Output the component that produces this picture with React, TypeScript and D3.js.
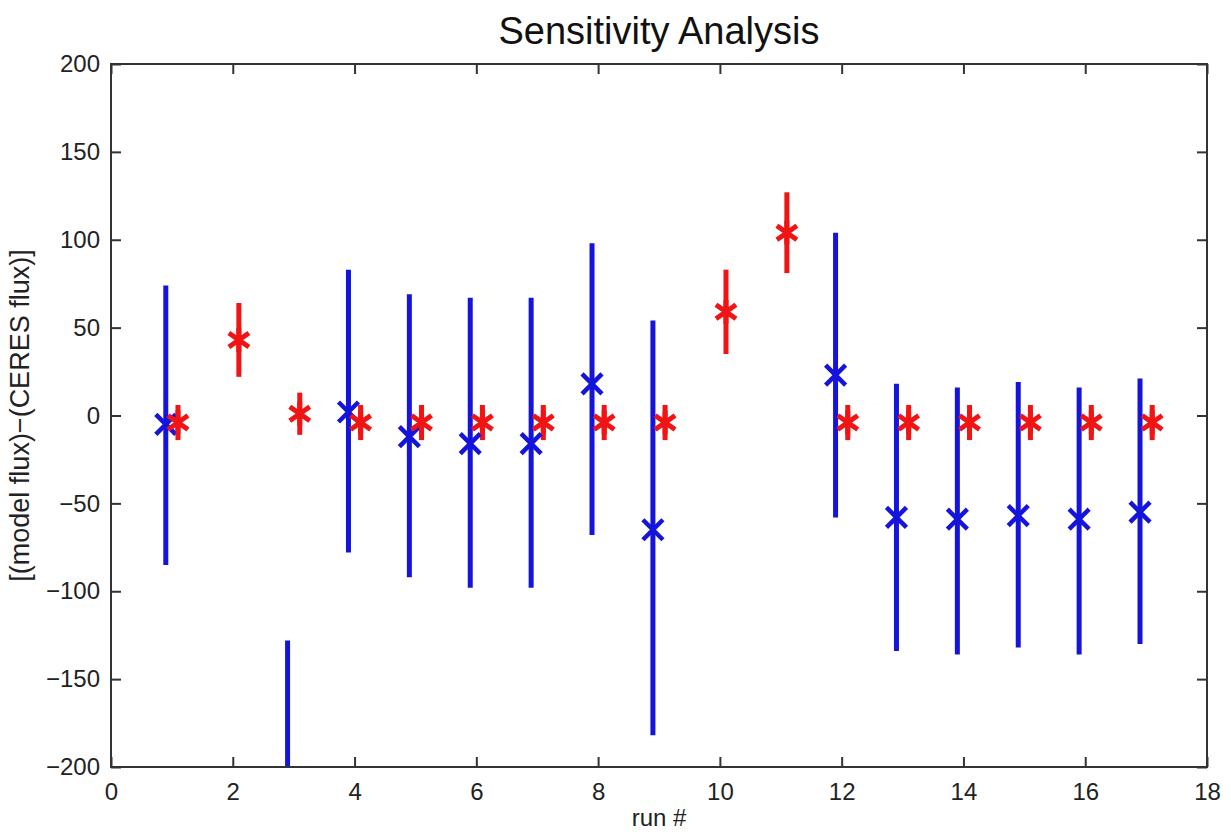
import { useEffect, useRef } from "react";
import * as d3 from "d3";

// run numbers
const runs = [1, 2, 3, 4, 5, 6, 7, 8, 9, 10, 11, 12, 13, 14, 15, 16, 17];

// blue series (null = no point for that run)
const blueMid = [-5, null, -260, 2, -12, -16, -16, 18, -65, null, null, 23, -58, -59, -57, -59, -55];
const blueLow = [-85, null, -390, -78, -92, -98, -98, -68, -182, null, null, -58, -134, -136, -132, -136, -130];
const blueHigh = [74, null, -128, 83, 69, 67, 67, 98, 54, null, null, 104, 18, 16, 19, 16, 21];

// red series
const redMid = [-4, 43, 1, -4, -4, -4, -4, -4, -4, 59, 104, -4, -4, -4, -4, -4, -4];
const redLow = [-14, 22, -11, -14, -14, -14, -14, -14, -14, 35, 81, -14, -14, -14, -14, -14, -14];
const redHigh = [6, 64, 13, 6, 6, 6, 6, 6, 6, 83, 127, 6, 6, 6, 6, 6, 6];

const xTicks = [0, 2, 4, 6, 8, 10, 12, 14, 16, 18];
const yTicks = [-200, -150, -100, -50, 0, 50, 100, 150, 200];

const BLUE = "#1414dc";
const RED = "#f01414";
const FONT = "'Liberation Sans', Arial, Helvetica, sans-serif";

type Pt = { x: number; mid: number; low: number; high: number };

const App = () => {
  const ref = useRef<SVGSVGElement | null>(null);

  useEffect(() => {
    const width = 1231;
    const height = 834;
    const left = 111;
    const right = 1207;
    const top = 64;
    const bottom = 767;

    const svg = d3.select(ref.current).attr("width", width).attr("height", height);
    svg.selectAll("*").remove();

    const x = d3.scaleLinear().domain([0, 18]).range([left, right]);
    const y = d3.scaleLinear().domain([-200, 200]).range([bottom, top]);

    svg.append("rect").attr("width", width).attr("height", height).attr("fill", "#fff");

    svg
      .append("defs")
      .append("clipPath")
      .attr("id", "plot")
      .append("rect")
      .attr("x", left)
      .attr("y", top)
      .attr("width", right - left)
      .attr("height", bottom - top);

    const blue: Pt[] = [];
    const red: Pt[] = [];
    runs.forEach((r, i) => {
      const bm = blueMid[i];
      if (bm !== null) blue.push({ x: r - 0.1, mid: bm, low: blueLow[i] as number, high: blueHigh[i] as number });
      red.push({ x: r + 0.1, mid: redMid[i], low: redLow[i], high: redHigh[i] });
    });

    const plot = svg.append("g").attr("clip-path", "url(#plot)");

    // error bars
    const bars = (data: Pt[], color: string) =>
      plot
        .append("g")
        .selectAll("line")
        .data(data)
        .enter()
        .append("line")
        .attr("x1", (d) => x(d.x))
        .attr("x2", (d) => x(d.x))
        .attr("y1", (d) => y(d.high))
        .attr("y2", (d) => y(d.low))
        .attr("stroke", color)
        .attr("stroke-width", 5);

    bars(blue, BLUE);
    bars(red, RED);

    // blue "x" markers
    const bx = plot
      .append("g")
      .selectAll("g")
      .data(blue)
      .enter()
      .append("g")
      .attr("transform", (d) => `translate(${x(d.x)},${y(d.mid)})`);
    bx.append("path")
      .attr("d", "M-10,-10L10,10M-10,10L10,-10")
      .attr("stroke", BLUE)
      .attr("stroke-width", 4.5)
      .attr("fill", "none");

    // red "*" markers
    const rs = plot
      .append("g")
      .selectAll("g")
      .data(red)
      .enter()
      .append("g")
      .attr("transform", (d) => `translate(${x(d.x)},${y(d.mid)})`);
    rs.append("path")
      .attr("d", "M0,-12L0,12M-10,-7L10,7M-10,7L10,-7")
      .attr("stroke", RED)
      .attr("stroke-width", 5)
      .attr("fill", "none");

    // frame
    svg
      .append("rect")
      .attr("x", left)
      .attr("y", top)
      .attr("width", right - left)
      .attr("height", bottom - top)
      .attr("fill", "none")
      .attr("stroke", "#333")
      .attr("stroke-width", 2);

    const style = (g: d3.Selection<SVGGElement, unknown, null, undefined>) => {
      g.select(".domain").remove();
      g.selectAll("line").attr("stroke", "#333").attr("stroke-width", 2);
      g.selectAll("text").attr("fill", "#222").style("font-family", FONT).style("font-size", "24px");
    };

    const gx = svg
      .append("g")
      .attr("transform", `translate(0,${bottom})`)
      .call(d3.axisBottom(x).tickValues(xTicks).tickSizeInner(-10).tickSizeOuter(0).tickPadding(16));
    style(gx);

    const gxt = svg
      .append("g")
      .attr("transform", `translate(0,${top})`)
      .call(d3.axisTop(x).tickValues(xTicks).tickSizeInner(-10).tickSizeOuter(0).tickFormat(() => ""));
    style(gxt);

    const gy = svg
      .append("g")
      .attr("transform", `translate(${left},0)`)
      .call(d3.axisLeft(y).tickValues(yTicks).tickSizeInner(-10).tickSizeOuter(0).tickPadding(11).tickFormat(d3.format("d")));
    style(gy);
    gy.selectAll("text").text((d) => String(d).replace("-", "\u2212"));

    const gyr = svg
      .append("g")
      .attr("transform", `translate(${right},0)`)
      .call(d3.axisRight(y).tickValues(yTicks).tickSizeInner(-10).tickSizeOuter(0).tickFormat(() => ""));
    style(gyr);

    // title and axis labels
    svg
      .append("text")
      .attr("x", (left + right) / 2)
      .attr("y", 44)
      .attr("text-anchor", "middle")
      .style("font-family", FONT)
      .style("font-size", "38px")
      .attr("fill", "#111")
      .text("Sensitivity Analysis");

    svg
      .append("text")
      .attr("x", (left + right) / 2)
      .attr("y", 826)
      .attr("text-anchor", "middle")
      .style("font-family", FONT)
      .style("font-size", "24px")
      .attr("fill", "#222")
      .text("run #");

    svg
      .append("text")
      .attr("transform", `translate(29,${(top + bottom) / 2}) rotate(-90)`)
      .attr("text-anchor", "middle")
      .style("font-family", FONT)
      .style("font-size", "27px")
      .attr("fill", "#222")
      .text("[(model flux)\u2212(CERES flux)]");
  }, []);

  return (
    <div style={{ position: "absolute", left: 0, top: 0 }}>
      <svg ref={ref} style={{ display: "block" }}></svg>
    </div>
  );
};

export default App;
